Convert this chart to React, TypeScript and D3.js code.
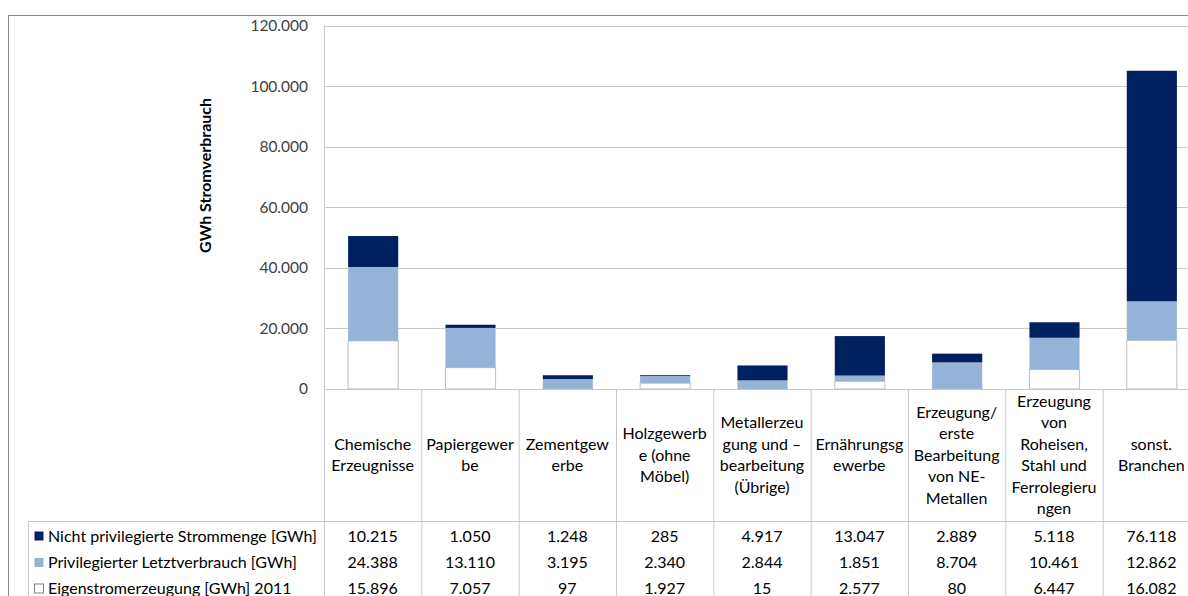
import * as d3 from "d3";

const categories = [
  "Chemische Erzeugnisse",
  "Papiergewerbe",
  "Zementgewerbe",
  "Holzgewerbe (ohne Möbel)",
  "Metallerzeugung und –bearbeitung (Übrige)",
  "Ernährungsgewerbe",
  "Erzeugung/ erste Bearbeitung von NE-Metallen",
  "Erzeugung von Roheisen, Stahl und Ferrolegierungen",
  "sonst. Branchen",
];

// category labels as wrapped in the data table
const categoryLines = [
  ["Chemische", "Erzeugnisse"],
  ["Papiergewer", "be"],
  ["Zementgew", "erbe"],
  ["Holzgewerb", "e (ohne", "Möbel)"],
  ["Metallerzeu", "gung und –", "bearbeitung", "(Übrige)"],
  ["Ernährungsg", "ewerbe"],
  ["Erzeugung/", "erste", "Bearbeitung", "von NE-", "Metallen"],
  ["Erzeugung", "von", "Roheisen,", "Stahl und", "Ferrolegieru", "ngen"],
  ["sonst.", "Branchen"],
];

const eigen = [15896, 7057, 97, 1927, 15, 2577, 80, 6447, 16082];
const privilegiert = [24388, 13110, 3195, 2340, 2844, 1851, 8704, 10461, 12862];
const nichtPrivilegiert = [10215, 1050, 1248, 285, 4917, 13047, 2889, 5118, 76118];

const seriesNames = [
  "Nicht privilegierte Strommenge [GWh]",
  "Privilegierter Letztverbrauch [GWh]",
  "Eigenstromerzeugung [GWh] 2011",
];

const yTicks = [0, 20000, 40000, 60000, 80000, 100000, 120000];

const W = 1188;
const H = 596;
const FONT = "Lato, 'Open Sans', sans-serif";
const GRID = "#c8c8c8";

const fmt = (v: number) => d3.format(",")(v).replace(/,/g, ".");

export default function App() {
  const left = 324;
  const right = 1200;
  const top = 25.5;
  const base = 389;
  const tableHeaderBottom = 521;

  const x = d3.scaleBand<string>().domain(categories).range([left, right]).paddingInner(0.485).paddingOuter(0.2425);
  const col = d3.scaleBand<string>().domain(categories).range([left, right]).padding(0);
  const y = d3.scaleLinear().domain([0, 120000]).range([base, top]);

  const rows = categories.map((c, i) => ({
    c,
    eigen: eigen[i],
    priv: privilegiert[i],
    nicht: nichtPrivilegiert[i],
  }));
  const stack = d3.stack<(typeof rows)[number]>().keys(["eigen", "priv", "nicht"]);
  const layers = stack(rows as any);
  const fills: Record<string, string> = { eigen: "#ffffff", priv: "#95b3d7", nicht: "#002060" };
  const strokes: Record<string, string> = { eigen: "#bfbfbf", priv: "none", nicht: "none" };

  const tableRows = [
    { name: seriesNames[0], values: nichtPrivilegiert, fill: "#002060", stroke: "none" },
    { name: seriesNames[1], values: privilegiert, fill: "#95b3d7", stroke: "none" },
    { name: seriesNames[2], values: eigen, fill: "#ffffff", stroke: "#7f7f7f" },
  ];
  const rowY = [536, 562.5, 588.5];
  const lineH = 21.5;
  const labelMid = (base + tableHeaderBottom) / 2;

  return (
    <div style={{ position: "absolute", left: 0, top: 0 }}>
      <svg width={W} height={H} style={{ display: "block", background: "#fff" }} fontFamily={FONT}>
        {/* chart border */}
        <rect x={8.5} y={15.5} width={W + 20} height={H + 20} fill="none" stroke="#868686" />

        {/* gridlines */}
        {yTicks.map((t) => (
          <line key={t} x1={left} x2={right} y1={Math.round(y(t)) + 0.5} y2={Math.round(y(t)) + 0.5} stroke={GRID} />
        ))}
        {yTicks.map((t) => (
          <text key={"l" + t} x={308} y={y(t)} dy="0.35em" textAnchor="end" fontSize={15.5} fill="#404040">
            {fmt(t)}
          </text>
        ))}
        <text
          transform={`translate(205,${175.5}) rotate(-90)`}
          textAnchor="middle"
          dy="0.35em"
          fontSize={16}
          fontWeight="bold"
          fill="#000"
        >
          GWh Stromverbrauch
        </text>

        {/* bars */}
        {layers.map((layer) => (
          <g key={layer.key}>
            {layer.map((d, i) => (
              <rect
                key={i}
                x={x(categories[i])! + 0.5}
                y={y(d[1])}
                width={x.bandwidth()}
                height={Math.max(0, y(d[0]) - y(d[1]))}
                fill={fills[layer.key]}
                stroke={strokes[layer.key]}
              />
            ))}
          </g>
        ))}

        {/* data table lines */}
        <line x1={left + 0.5} x2={left + 0.5} y1={top} y2={H} stroke={GRID} />
        {categories.map((c) => (
          <line key={c} x1={col(c)! + col.bandwidth() + 0.5} x2={col(c)! + col.bandwidth() + 0.5} y1={base} y2={H} stroke={GRID} />
        ))}
        <line x1={28.5} x2={right} y1={tableHeaderBottom + 0.5} y2={tableHeaderBottom + 0.5} stroke={GRID} />
        <line x1={28.5} x2={28.5} y1={tableHeaderBottom} y2={H} stroke={GRID} />

        {/* category labels */}
        {categoryLines.map((lines, i) => {
          const cx = col(categories[i])! + col.bandwidth() / 2;
          const y0 = labelMid - ((lines.length - 1) * lineH) / 2;
          return (
            <text key={i} textAnchor="middle" fontSize={16} fill="#000">
              {lines.map((ln, j) => (
                <tspan key={j} x={cx} y={y0 + j * lineH} dy="0.35em">
                  {ln}
                </tspan>
              ))}
            </text>
          );
        })}

        {/* legend rows + values */}
        {tableRows.map((r, k) => (
          <g key={r.name}>
            <rect x={34.5} y={rowY[k] - 4.5} width={9} height={9} fill={r.fill} stroke={r.stroke} />
            <text x={48} y={rowY[k]} dy="0.35em" fontSize={16} fill="#000">
              {r.name}
            </text>
            {r.values.map((v, i) => (
              <text key={i} x={col(categories[i])! + col.bandwidth() / 2} y={rowY[k]} dy="0.35em" textAnchor="middle" fontSize={16} fill="#000">
                {fmt(v)}
              </text>
            ))}
          </g>
        ))}
      </svg>
    </div>
  );
}
